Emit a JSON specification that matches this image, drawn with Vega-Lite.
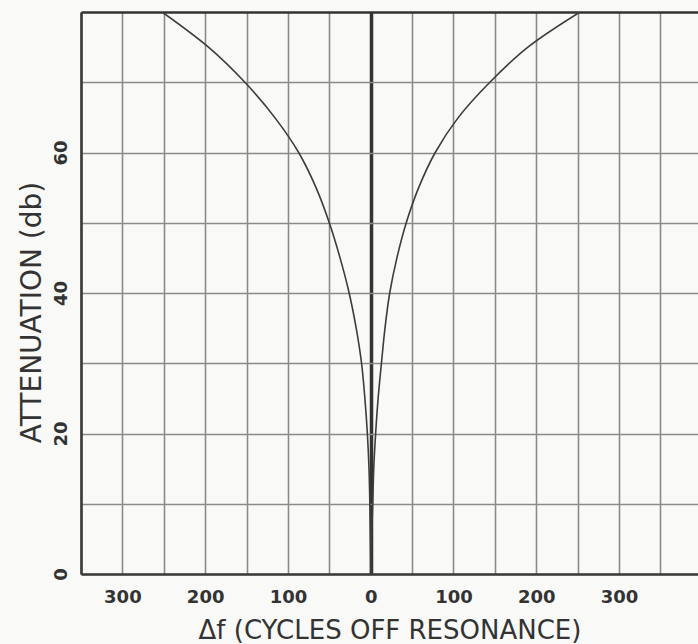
{
  "$schema": "https://vega.github.io/schema/vega-lite/v6.json",
  "width": 617,
  "height": 562,
  "autosize": {"type": "none"},
  "padding": {"left": 81, "top": 12, "right": 0, "bottom": 70},
  "background": "#f9f9f7",
  "view": {"stroke": null},
  "data": {
    "values": [
      {"side": "left", "df": 0, "db": 0},
      {"side": "left", "df": -0.4, "db": 5},
      {"side": "left", "df": -1, "db": 10},
      {"side": "left", "df": -2, "db": 15},
      {"side": "left", "df": -4, "db": 20},
      {"side": "left", "df": -7, "db": 25},
      {"side": "left", "df": -11, "db": 30},
      {"side": "left", "df": -17.5, "db": 35},
      {"side": "left", "df": -26, "db": 40},
      {"side": "left", "df": -37, "db": 45},
      {"side": "left", "df": -50, "db": 50},
      {"side": "left", "df": -66, "db": 55},
      {"side": "left", "df": -87, "db": 60},
      {"side": "left", "df": -116, "db": 65},
      {"side": "left", "df": -152, "db": 70},
      {"side": "left", "df": -196, "db": 75},
      {"side": "left", "df": -252, "db": 80},
      {"side": "right", "df": 0, "db": 0},
      {"side": "right", "df": 1, "db": 5},
      {"side": "right", "df": 2.5, "db": 10},
      {"side": "right", "df": 3.7, "db": 15},
      {"side": "right", "df": 6, "db": 20},
      {"side": "right", "df": 9, "db": 25},
      {"side": "right", "df": 13, "db": 30},
      {"side": "right", "df": 17.3, "db": 35},
      {"side": "right", "df": 23, "db": 40},
      {"side": "right", "df": 31.7, "db": 45},
      {"side": "right", "df": 43, "db": 50},
      {"side": "right", "df": 58, "db": 55},
      {"side": "right", "df": 78, "db": 60},
      {"side": "right", "df": 106, "db": 65},
      {"side": "right", "df": 144, "db": 70},
      {"side": "right", "df": 190, "db": 75},
      {"side": "right", "df": 253, "db": 80}
    ]
  },
  "mark": {"type": "line", "interpolate": "catmull-rom", "color": "#3c3c3c", "strokeWidth": 1.6, "clip": true},
  "encoding": {
    "x": {
      "field": "df",
      "type": "quantitative",
      "scale": {"domain": [-350, 395.5], "nice": false, "zero": false},
      "axis": {
        "values": [-350, -300, -250, -200, -150, -100, -50, 0, 50, 100, 150, 200, 250, 300, 350],
        "labelExpr": "datum.value % 100 == 0 ? '' + abs(datum.value) : ''",
        "title": "Δf (CYCLES OFF RESONANCE)",
        "titleFont": "DejaVu Sans",
        "titleFontSize": 26,
        "titleFontWeight": "normal",
        "titleColor": "#333333",
        "titleBaseline": "middle",
        "titleY": 56,
        "labelFont": "DejaVu Sans",
        "labelFontSize": 18,
        "labelFontWeight": "bold",
        "labelColor": "#333333",
        "labelPadding": 14,
        "labelFlush": false,
        "ticks": false,
        "domain": true,
        "domainColor": "#3a3a3a",
        "domainWidth": 2.5,
        "grid": true,
        "gridColor": {"condition": {"test": "datum.value == 0 || datum.value == -350", "value": "#333333"}, "value": "#8a8a8a"},
        "gridWidth": {"condition": {"test": "datum.value == 0", "value": 3.5}, "value": 1.6},
        "gridOpacity": 1
      }
    },
    "y": {
      "field": "db",
      "type": "quantitative",
      "scale": {"domain": [0, 80], "nice": false},
      "axis": {
        "values": [0, 10, 20, 30, 40, 50, 60, 70, 80],
        "labelExpr": "datum.value % 20 == 0 && datum.value < 80 ? datum.label : ''",
        "title": "ATTENUATION (db)",
        "titleFont": "DejaVu Sans",
        "titleFontSize": 28,
        "titleFontWeight": "normal",
        "titleColor": "#333333",
        "titleAngle": 270,
        "titleAlign": "center",
        "titleBaseline": "middle",
        "titleX": -49,
        "titleY": 300,
        "labelFont": "DejaVu Sans",
        "labelFontSize": 18,
        "labelFontWeight": "bold",
        "labelColor": "#333333",
        "labelAngle": 270,
        "labelAlign": "center",
        "labelBaseline": "middle",
        "labelPadding": 20,
        "labelFlush": false,
        "ticks": false,
        "domain": true,
        "domainColor": "#3a3a3a",
        "domainWidth": 2.5,
        "grid": true,
        "gridColor": {"condition": {"test": "datum.value == 80", "value": "#333333"}, "value": "#8a8a8a"},
        "gridWidth": {"condition": {"test": "datum.value == 80", "value": 2.5}, "value": 1.6},
        "gridOpacity": 1
      }
    },
    "detail": {"field": "side"},
    "order": {"field": "db", "type": "quantitative"}
  }
}
